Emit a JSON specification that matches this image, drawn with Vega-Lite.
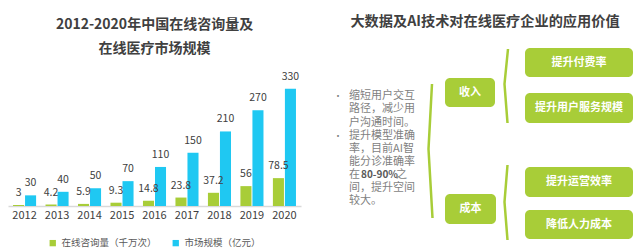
{
  "$schema": "https://vega.github.io/schema/vega-lite/v6.json",
  "padding": {"left": 8, "top": 14, "right": 0, "bottom": 0},
  "spacing": 9,
  "resolve": {"scale": {"color": "independent"}, "legend": {"color": "independent"}},
  "config": {"view": {"stroke": null}, "font": "Noto Sans CJK SC", "legend": {"layout": {"bottom": {"anchor": "middle"}}}},
  "datasets": {
    "bars": [
      {"year": "2012", "series": "在线咨询量（千万次）", "value": 3},
      {"year": "2012", "series": "市场规模（亿元）", "value": 30},
      {"year": "2013", "series": "在线咨询量（千万次）", "value": 4.2},
      {"year": "2013", "series": "市场规模（亿元）", "value": 40},
      {"year": "2014", "series": "在线咨询量（千万次）", "value": 5.9},
      {"year": "2014", "series": "市场规模（亿元）", "value": 50},
      {"year": "2015", "series": "在线咨询量（千万次）", "value": 9.3},
      {"year": "2015", "series": "市场规模（亿元）", "value": 70},
      {"year": "2016", "series": "在线咨询量（千万次）", "value": 14.8},
      {"year": "2016", "series": "市场规模（亿元）", "value": 110},
      {"year": "2017", "series": "在线咨询量（千万次）", "value": 23.8},
      {"year": "2017", "series": "市场规模（亿元）", "value": 150},
      {"year": "2018", "series": "在线咨询量（千万次）", "value": 37.2},
      {"year": "2018", "series": "市场规模（亿元）", "value": 210},
      {"year": "2019", "series": "在线咨询量（千万次）", "value": 56},
      {"year": "2019", "series": "市场规模（亿元）", "value": 270},
      {"year": "2020", "series": "在线咨询量（千万次）", "value": 78.5},
      {"year": "2020", "series": "市场规模（亿元）", "value": 330}
    ],
    "rtitle": [{"t": "大数据及AI技术对在线医疗企业的应用价值", "x": 485, "y": 15.5}],
    "body": [
      {"t": "缩短用户交互", "x": 349, "y": 90},
      {"t": "路径，减少用", "x": 349, "y": 103.3},
      {"t": "户沟通时间。", "x": 349, "y": 116.7},
      {"t": "提升模型准确", "x": 349, "y": 130},
      {"t": "率，目前AI智", "x": 349, "y": 143},
      {"t": "能分诊准确率", "x": 349, "y": 156},
      {"t": "在", "x": 349, "y": 169},
      {"t": "之", "x": 396, "y": 169},
      {"t": "间，提升空间", "x": 349, "y": 182},
      {"t": "较大。", "x": 349, "y": 195}
    ],
    "bodybold": [{"t": "80-90%", "x": 361, "y": 169}],
    "bullets": [
      {"t": "•", "x": 338, "y": 90},
      {"t": "•", "x": 338, "y": 130}
    ],
    "boxes": [
      {"label": "收入", "x": 445, "x2": 495, "y": 72, "y2": 101, "cx": 470, "cy": 86.5},
      {"label": "成本", "x": 445, "x2": 496, "y": 188, "y2": 218, "cx": 470.5, "cy": 203},
      {"label": "提升付费率", "x": 525, "x2": 633, "y": 42, "y2": 71, "cx": 579, "cy": 56.5},
      {"label": "提升用户服务规模", "x": 525, "x2": 633, "y": 87, "y2": 117, "cx": 579, "cy": 102},
      {"label": "提升运营效率", "x": 525, "x2": 633, "y": 161, "y2": 191, "cx": 579, "cy": 176},
      {"label": "降低人力成本", "x": 525, "x2": 633, "y": 204, "y2": 233, "cx": 579, "cy": 218.5}
    ],
    "brackets": [
      {"id": "a", "o": 1, "x": 432, "y": 78},
      {"id": "a", "o": 2, "x": 428.5, "y": 143},
      {"id": "a", "o": 3, "x": 432.5, "y": 212},
      {"id": "b", "o": 1, "x": 508, "y": 43},
      {"id": "b", "o": 2, "x": 504.5, "y": 78},
      {"id": "b", "o": 3, "x": 507.5, "y": 117},
      {"id": "c", "o": 1, "x": 507.5, "y": 159},
      {"id": "c", "o": 2, "x": 504.5, "y": 196},
      {"id": "c", "o": 3, "x": 507.5, "y": 234}
    ]
  },
  "hconcat": [
    {
      "width": 293,
      "height": 142,
      "title": {
        "text": ["2012-2020年中国在线咨询量及", "在线医疗市场规模"],
        "fontSize": 14,
        "fontWeight": "bold",
        "color": "#404040",
        "lineHeight": 24,
        "frame": "group",
        "anchor": "middle",
        "offset": 8
      },
      "data": {"name": "bars"},
      "encoding": {
        "x": {
          "field": "year", "type": "ordinal",
          "scale": {"paddingInner": 0.29, "paddingOuter": 0.155},
          "axis": {"title": null, "labelAngle": 0, "ticks": false, "domainColor": "#d9d9d9", "domainWidth": 1.5, "labelFontSize": 11, "labelColor": "#404040", "labelPadding": 3}
        },
        "xOffset": {"field": "series", "type": "nominal", "sort": ["在线咨询量（千万次）", "市场规模（亿元）"], "scale": {"paddingInner": 0.08}},
        "y": {"field": "value", "type": "quantitative", "scale": {"domain": [0, 400], "nice": false}, "axis": null}
      },
      "layer": [
        {
          "mark": {"type": "bar"},
          "encoding": {
            "color": {
              "field": "series", "type": "nominal",
              "sort": ["在线咨询量（千万次）", "市场规模（亿元）"],
              "scale": {"range": ["#a8cd38", "#1fc8f2"]},
              "legend": {"orient": "bottom", "direction": "horizontal", "title": null, "symbolType": "square", "symbolSize": 40, "symbolStrokeWidth": 0, "labelFontSize": 9.5, "labelColor": "#595959", "offset": 18, "columnPadding": 14}
            }
          }
        },
        {
          "mark": {"type": "text", "dy": -12, "fontSize": 10.5, "color": "#404040"},
          "encoding": {"text": {"field": "value", "type": "nominal"}}
        }
      ]
    },
    {
      "width": 330,
      "height": 190,
      "layer": [
        {
          "data": {"name": "brackets"},
          "mark": {"type": "line", "stroke": "#a8cd38", "strokeWidth": 2.5},
          "encoding": {
            "x": {"field": "x", "type": "quantitative", "scale": {"domain": [310, 640], "nice": false, "zero": false}, "axis": null},
            "y": {"field": "y", "type": "quantitative", "scale": {"domain": [58, 248], "nice": false, "zero": false, "reverse": true}, "axis": null},
            "detail": {"field": "id"},
            "order": {"field": "o"}
          }
        },
        {
          "data": {"name": "boxes"},
          "mark": {"type": "rect", "fill": "#a8cd38", "cornerRadius": 5},
          "encoding": {
            "x": {"field": "x", "type": "quantitative"},
            "x2": {"field": "x2"},
            "y": {"field": "y", "type": "quantitative"},
            "y2": {"field": "y2"}
          }
        },
        {
          "data": {"name": "boxes"},
          "mark": {"type": "text", "color": "white", "fontWeight": "bold", "fontSize": 11, "align": "center", "baseline": "middle"},
          "encoding": {
            "x": {"field": "cx", "type": "quantitative"},
            "y": {"field": "cy", "type": "quantitative"},
            "text": {"field": "label"}
          }
        },
        {
          "data": {"name": "rtitle"},
          "mark": {"type": "text", "color": "#404040", "fontWeight": "bold", "fontSize": 14.2, "align": "center", "baseline": "middle"},
          "encoding": {
            "x": {"field": "x", "type": "quantitative"},
            "y": {"field": "y", "type": "quantitative"},
            "text": {"field": "t"}
          }
        },
        {
          "data": {"name": "body"},
          "mark": {"type": "text", "color": "#7f7f7f", "fontSize": 11, "align": "left", "baseline": "middle"},
          "encoding": {
            "x": {"field": "x", "type": "quantitative"},
            "y": {"field": "y", "type": "quantitative"},
            "text": {"field": "t"}
          }
        },
        {
          "data": {"name": "bodybold"},
          "mark": {"type": "text", "color": "#595959", "fontSize": 10, "fontWeight": "bold", "align": "left", "baseline": "middle"},
          "encoding": {
            "x": {"field": "x", "type": "quantitative"},
            "y": {"field": "y", "type": "quantitative"},
            "text": {"field": "t"}
          }
        },
        {
          "data": {"name": "bullets"},
          "mark": {"type": "text", "color": "#7f7f7f", "fontSize": 9, "align": "center", "baseline": "middle"},
          "encoding": {
            "x": {"field": "x", "type": "quantitative"},
            "y": {"field": "y", "type": "quantitative"},
            "text": {"field": "t"}
          }
        }
      ]
    }
  ]
}
